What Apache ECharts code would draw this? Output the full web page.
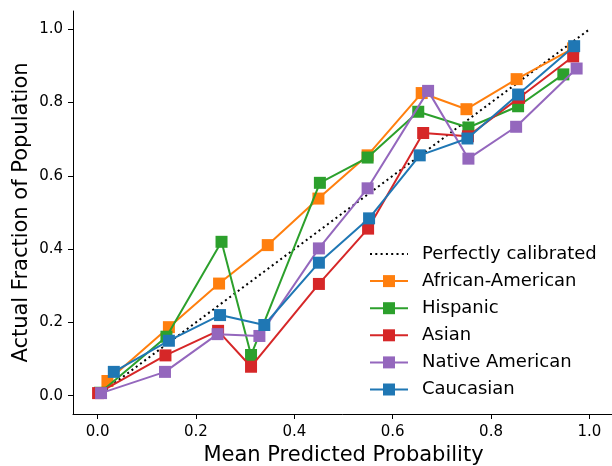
<!DOCTYPE html>
<html>
<head>
<meta charset="utf-8">
<script src="https://cdn.jsdelivr.net/npm/echarts@6/dist/echarts.min.js"></script>
<style>html,body{margin:0;padding:0;background:#fff}#c{width:612px;height:466px}</style>
</head>
<body>
<div id="c"></div>
<script>
const tickValues = [0, 0.2, 0.4, 0.6, 0.8, 1.0];
const calibX = [0, 1];
const calibY = [0, 1];
const afrX = [0.020, 0.145, 0.247, 0.346, 0.449, 0.549, 0.659, 0.750, 0.852, 0.967];
const afrY = [0.040, 0.187, 0.306, 0.411, 0.538, 0.656, 0.826, 0.782, 0.864, 0.948];
const hisX = [0.005, 0.140, 0.252, 0.312, 0.452, 0.549, 0.652, 0.754, 0.855, 0.947];
const hisY = [0.008, 0.161, 0.420, 0.111, 0.581, 0.650, 0.775, 0.732, 0.790, 0.877];
const asiX = [0.001, 0.138, 0.245, 0.312, 0.450, 0.550, 0.662, 0.753, 0.857, 0.967];
const asiY = [0.007, 0.110, 0.177, 0.079, 0.305, 0.456, 0.717, 0.708, 0.813, 0.926];
const natX = [0.007, 0.137, 0.244, 0.329, 0.450, 0.549, 0.672, 0.754, 0.851, 0.974];
const natY = [0.007, 0.065, 0.168, 0.163, 0.402, 0.566, 0.832, 0.647, 0.734, 0.893];
const cauX = [0.033, 0.145, 0.249, 0.339, 0.450, 0.552, 0.655, 0.752, 0.855, 0.969];
const cauY = [0.065, 0.150, 0.220, 0.193, 0.363, 0.484, 0.656, 0.702, 0.822, 0.954];

const names = ['Perfectly calibrated', 'African-American', 'Hispanic', 'Asian', 'Native American', 'Caucasian'];
const colors = ['#000000', '#ff7f0e', '#2ca02c', '#d62728', '#9467bd', '#1f77b4'];
const xs = [calibX, afrX, hisX, asiX, natX, cauX];
const ys = [calibY, afrY, hisY, asiY, natY, cauY];

const pair = (a, b) => a.map((v, i) => [v, b[i]]);
const FONT = 'DejaVu Sans';

const series = names.map((n, i) => {
  const s = {
    name: n,
    type: 'line',
    data: pair(xs[i], ys[i]),
    color: colors[i],
    z: 2 + i,
    animation: false,
    lineStyle: { color: colors[i], width: 2 },
    itemStyle: { color: colors[i] },
    symbol: 'rect',
    symbolSize: 12,
    showAllSymbol: true,
    emphasis: { disabled: true }
  };
  if (i === 0) {
    s.symbol = 'none';
    s.lineStyle = { color: '#000', width: 2, type: [2, 3.3] };
  }
  return s;
});

const legendData = names.map((n, i) => i === 0 ? { name: n, itemStyle: { opacity: 0 } } : { name: n });

const chart = echarts.init(document.getElementById('c'));
chart.setOption({
  backgroundColor: '#fff',
  animation: false,
  grid: { left: 73, top: 11, width: 541, height: 403, outerBoundsMode: 'none', containLabel: false },
  xAxis: {
    type: 'value', min: -0.05, max: 1.05,
    name: 'Mean Predicted Probability', nameLocation: 'middle', nameGap: 31, nameMoveOverlap: false,
    nameTextStyle: { fontFamily: FONT, fontSize: 21, color: '#000' },
    axisLine: { onZero: false, lineStyle: { color: '#000', width: 1 } },
    axisTick: { show: true, length: 5, lineStyle: { color: '#000' }, customValues: tickValues },
    axisLabel: { fontFamily: FONT, fontSize: 15, color: '#000', margin: 11, customValues: tickValues,
      formatter: v => v.toFixed(1) },
    splitLine: { show: false }
  },
  yAxis: {
    type: 'value', min: -0.05, max: 1.05,
    name: 'Actual Fraction of Population', nameLocation: 'middle', nameGap: 41, nameMoveOverlap: false,
    nameTextStyle: { fontFamily: FONT, fontSize: 21, color: '#000' },
    axisLine: { show: true, onZero: false, lineStyle: { color: '#000', width: 1 } },
    axisTick: { show: true, length: 5, lineStyle: { color: '#000' }, customValues: tickValues },
    axisLabel: { fontFamily: FONT, fontSize: 15, color: '#000', margin: 10, customValues: tickValues,
      formatter: v => v.toFixed(1) },
    splitLine: { show: false }
  },
  legend: {
    orient: 'vertical', left: 369, top: 245, padding: 0,
    itemWidth: 38, itemHeight: 15, itemGap: 9.1,
    textStyle: { fontFamily: FONT, fontSize: 18, color: '#000', padding: [0, 0, 0, 9] },
    data: legendData
  },
  series: series
});
</script>
</body>
</html>
